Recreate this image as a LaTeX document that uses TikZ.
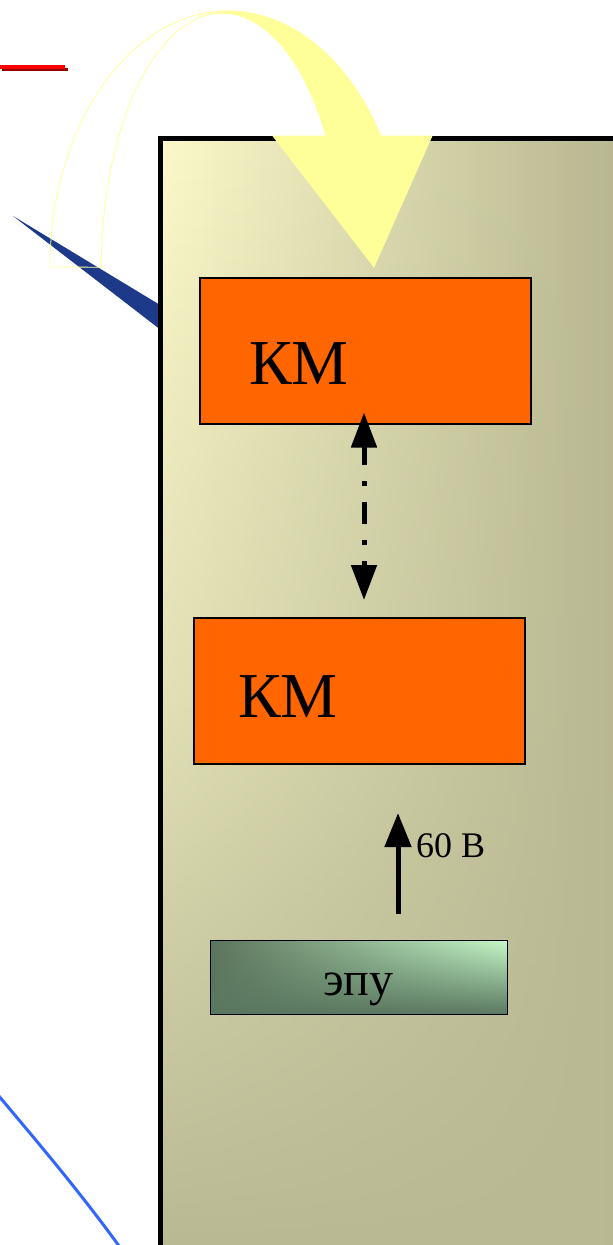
\documentclass[tikz,border=0pt]{standalone}
\usepackage{fontspec}
\setmainfont{Liberation Serif}
\usetikzlibrary{arrows.meta,fadings}
\definecolor{kmorange}{HTML}{FF6600}
\definecolor{panelL}{HTML}{FCFACA}
\definecolor{panelR}{HTML}{B7B690}
\definecolor{panelB}{HTML}{B9B994}
\definecolor{epuL}{HTML}{5C745D}
\definecolor{epuR}{HTML}{C6F8C8}
\definecolor{epuB}{HTML}{5A7860}
\definecolor{arcyellow}{HTML}{FFFF99}
\definecolor{wedgeblue}{HTML}{1C398A}
\definecolor{linkblue}{HTML}{3366FF}
\definecolor{redshadow}{HTML}{990000}
\pgfdeclarehorizontalshading{arcfadeshading}{100bp}{color(0bp)=(black); color(44bp)=(black); color(48bp)=(white); color(100bp)=(white)}
\pgfdeclarefading{arcfade}{\pgfuseshading{arcfadeshading}}
\pgfdeclareverticalshading{panelfadeshading}{100bp}{color(0bp)=(white); color(25bp)=(white); color(40bp)=(white!65!black); color(50bp)=(white!38!black); color(60bp)=(white!25!black); color(75bp)=(black); color(100bp)=(black)}
\pgfdeclarefading{panelfade}{\pgfuseshading{panelfadeshading}}
\newcommand\bendarrow{(50,267) arc[start angle=180,end angle=329.2,x radius=178,y radius=256]
  -- (432,136) -- (374,267) -- (273,136) -- (326,136)
  arc[start angle=328.9,end angle=180,x radius=121,y radius=254] -- cycle}

\begin{document}
\begin{tikzpicture}[x=1pt,y=-1pt,
  kmbox/.style={draw=black,line width=2pt,fill=kmorange,minimum width=331pt,minimum height=146pt,inner sep=0pt,outer sep=0pt},
  kmtext/.style={font=\fontsize{64}{76}\selectfont,inner sep=0pt},
  epubox/.style={draw=black,line width=1.5pt,minimum width=297pt,minimum height=74pt,inner sep=0pt,outer sep=0pt,left color=epuL,right color=epuR,
    path picture={\fill[epuB,path fading=north] (path picture bounding box.south west) rectangle (path picture bounding box.north east);}},
  eputext/.style={font=\fontsize{48}{58}\selectfont,inner sep=0pt},
  linkarrow/.style={line width=5pt,dash pattern=on 22pt off 16pt on 5pt off 16pt,dash phase=3pt,
    arrows={Triangle[length=35pt,width=25pt]-Triangle[length=35pt,width=25pt]}},
  powarrow/.style={line width=5pt,-{Triangle[length=34pt,width=26pt]}},
  voltlabel/.style={font=\fontsize{36}{43}\selectfont,inner sep=0pt}]
\useasboundingbox (0,0) rectangle (613,1245);
% marks on the left
\draw[line width=3pt,redshadow] (2,69.5) -- (68,69.5);
\draw[line width=4pt,red] (0,66.5) -- (65,66.5);
\fill[wedgeblue] (13,216) -- (170,311) -- (170,337) -- cycle;
\draw[linkblue,line width=3pt] (-2,1095) .. controls (40,1145) and (80,1192) .. (122,1250);
% panel
\shade[left color=panelL,right color=panelR] (160.5,138.5) rectangle (620,1247);
\fill[panelB,path fading=panelfade] (160.5,138.5) rectangle (620,1247);
\draw[line width=5pt] (160.5,138.5) rectangle (620,1247);
% bent arrow
\fill[arcyellow,path fading=arcfade] \bendarrow;
\draw[arcyellow,line width=0.8pt] \bendarrow;
% blocks
\foreach \n/\cx/\cy/\tx/\ty in {km1/365/350.5/-66/-13,km2/359/691/-71/-6} {
  \node[kmbox,label={[kmtext,xshift=\tx pt,yshift=\ty pt]center:КМ}] (\n) at (\cx,\cy) {};
}
\node[epubox,label={[eputext,xshift=-0.5pt,yshift=-11.5pt]center:эпу}] (epu) at (359,977.5) {};
\draw[linkarrow,shorten <=-11pt,shorten >=18pt] ([xshift=-1pt]km1.south) -- ([xshift=-1pt]km1.south |- km2.north);
\draw[powarrow,shorten <=27pt,shorten >=49pt] ([xshift=39pt]epu.north) -- ([xshift=39pt]km2.south);
\node[voltlabel,anchor=base west] (volt) at ([xshift=57pt,yshift=-93pt]km2.south) {60 В};
\end{tikzpicture}
\end{document}
